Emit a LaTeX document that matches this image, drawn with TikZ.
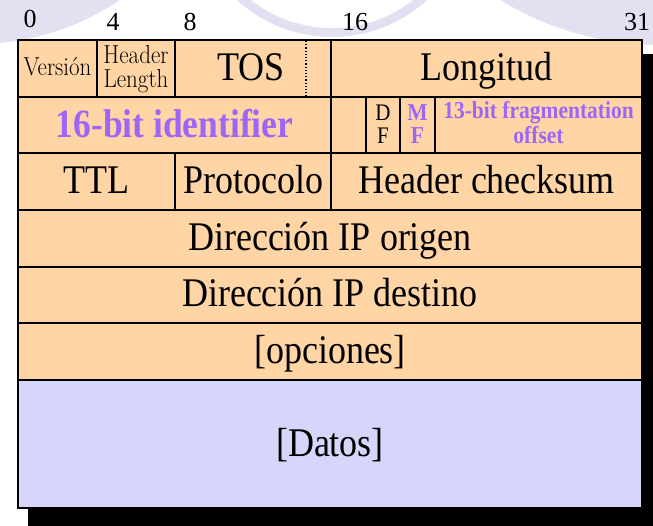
\documentclass[tikz,border=0pt]{standalone}
\usepackage{fontspec}
\setmainfont{Liberation Serif}
\definecolor{peach}{HTML}{FFD5A6}
\definecolor{datafill}{HTML}{D6D6FA}
\definecolor{bgl}{HTML}{E1E1F2}
\definecolor{purp}{HTML}{9E66F6}
\newcommand{\vstretch}[1]{\scalebox{1}[1.13]{#1}}
\begin{document}
\begin{tikzpicture}[x=1pt,y=-1pt,
  cell/.style={fill=peach,draw=black,line width=1.5pt},
  datacell/.style={fill=datafill,draw=black,line width=1.5pt},
  big/.style={inner sep=0pt,anchor=base,font=\fontsize{36}{40}\selectfont},
  bigp/.style={inner sep=0pt,anchor=base,text=purp,font=\fontsize{35.5}{40}\selectfont\bfseries},
  small/.style={inner sep=0pt,anchor=base,font=\fontsize{21}{22}\selectfont},
  smallp/.style={inner sep=0pt,anchor=base,text=purp,font=\fontsize{21.5}{22}\selectfont\bfseries},
  lm/.style={inner sep=0pt,anchor=base,font=\fontfamily{lmr}\fontsize{23}{24}\selectfont},
  bitnum/.style={inner sep=0pt,anchor=base,font=\fontsize{26}{28}\selectfont}]
\useasboundingbox (0,0) rectangle (653,525);
\begin{scope}
  \clip (0,0) rectangle (653,525);
  \fill[bgl] (-24,-213) circle[radius=257];
  \draw[bgl,line width=9pt] (332,-103.5) circle[radius=136];
  \fill[bgl] (660,-260) circle[radius=305];
  \fill[black] (28,54) rectangle (665,535);
\end{scope}
% row 1
\path[cell] (18,40) rectangle (97,97);
\path[cell] (97,40) rectangle (175,97);
\path[cell] (175,40) rectangle (331,97);
\path[cell] (331,40) rectangle (642,97);
\draw[dotted,line width=1.2pt] (306,41) -- (306,96);
% row 2
\path[cell] (18,97) rectangle (331,153);
\path[cell] (331,97) rectangle (366,153);
\path[cell] (366,97) rectangle (400,153);
\path[cell] (400,97) rectangle (435,153);
\path[cell] (435,97) rectangle (642,153);
% row 3
\path[cell] (18,153) rectangle (175,210);
\path[cell] (175,153) rectangle (331,210);
\path[cell] (331,153) rectangle (642,210);
% rows 4-7
\path[cell] (18,210) rectangle (642,267);
\path[cell] (18,267) rectangle (642,323);
\path[cell] (18,323) rectangle (642,380);
\path[datacell] (18,380) rectangle (642,508);
% bit numbers
\node[bitnum] (b0) at (30,27) {0};
\node[bitnum] (b4) at (113,30) {4};
\node[bitnum] (b8) at (190,30) {8};
\node[bitnum] (b16) at (355,30) {16};
\node[bitnum] (b31) at (637,30) {31};
% texts
\node[lm] (ver) at (57.5,75) {\vstretch{Versión}};
\node[lm] (hl1) at (136,63) {\vstretch{Header}};
\node[lm] (hl2) at (136,87) {\vstretch{Length}};
\node[big] (tos) at (251,80) {\vstretch{TOS}};
\node[big] (len) at (486.5,80) {\vstretch{Longitud}};
\node[bigp] (id) at (174.5,137) {\vstretch{16-bit identifier}};
\node[small] (df1) at (383,120) {\vstretch{D}};
\node[small] (df2) at (383,143) {\vstretch{F}};
\node[smallp] (mf1) at (417.5,120) {\vstretch{M}};
\node[smallp] (mf2) at (417.5,143) {\vstretch{F}};
\node[smallp] (fr1) at (538.5,118) {\vstretch{13-bit fragmentation}};
\node[smallp] (fr2) at (538.5,143) {\vstretch{offset}};
\node[big] (ttl) at (96.5,193) {\vstretch{TTL}};
\node[big] (proto) at (253,193) {\vstretch{Protocolo}};
\node[big] (csum) at (486.5,193) {\vstretch{Header checksum}};
\node[big] (src) at (330,250) {\vstretch{Dirección IP origen}};
\node[big] (dst) at (330,306) {\vstretch{Dirección IP destino}};
\node[big] (opt) at (330,363) {\vstretch{[opciones]}};
\node[big] (dat) at (330,456) {\vstretch{[Datos]}};
\end{tikzpicture}
\end{document}
